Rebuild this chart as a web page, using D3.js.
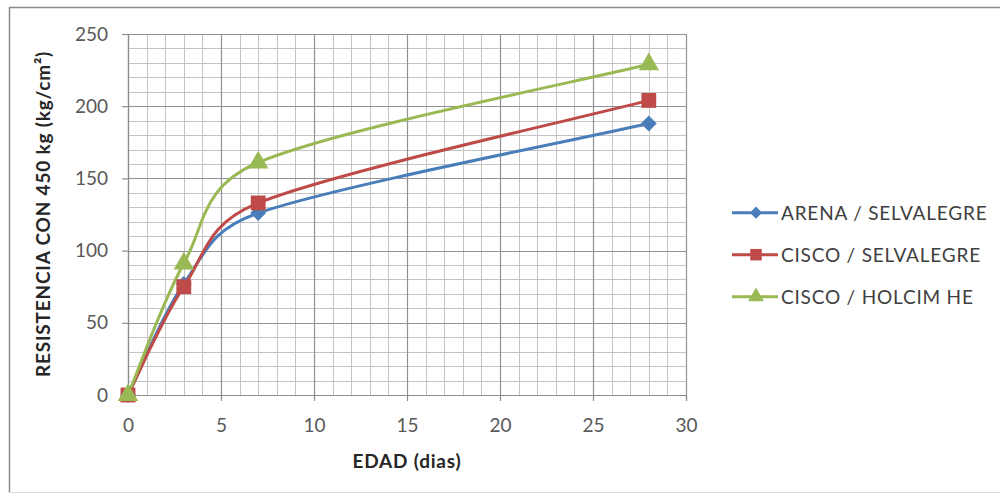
<!DOCTYPE html>
<html>
<head>
<meta charset="utf-8">
<script src="https://cdn.jsdelivr.net/npm/d3@7"></script>
<style>
  html, body { margin: 0; padding: 0; background: #fff; }
  svg { display: block; }
  text { font-family: Lato, "Open Sans", sans-serif; }
</style>
</head>
<body>
<svg id="chart" width="1000" height="497"></svg>
<script>
// Compressive strength vs. age for three mixes
const ages = [0, 3, 7, 28];
const arenaSelvalegre = [0, 77, 126, 188];
const ciscoSelvalegre = [0, 75, 133, 204];
const ciscoHolcimHE = [0, 91, 161, 229];
const seriesNames = ["ARENA / SELVALEGRE", "CISCO / SELVALEGRE", "CISCO / HOLCIM HE"];
const xTicks = [0, 5, 10, 15, 20, 25, 30];
const yTicks = [0, 50, 100, 150, 200, 250];

const series = [
  { name: seriesNames[0], values: arenaSelvalegre, color: "#4a7ebb", symbol: "diamond" },
  { name: seriesNames[1], values: ciscoSelvalegre, color: "#be4b48", symbol: "square" },
  { name: seriesNames[2], values: ciscoHolcimHE, color: "#98b954", symbol: "triangle" }
];

// Spreadsheet-style smoothing: Bezier segments with control arms of
// (next - prev) / 6, each arm capped at half of its segment length.
function curveSmoothCapped(context) {
  let pts = [];
  return {
    areaStart() {}, areaEnd() {},
    lineStart() { pts = []; },
    point(x, y) { pts.push([+x, +y]); },
    lineEnd() {
      const n = pts.length;
      if (!n) return;
      context.moveTo(pts[0][0], pts[0][1]);
      for (let i = 0; i < n - 1; i++) {
        const p0 = pts[Math.max(i - 1, 0)], p1 = pts[i], p2 = pts[i + 1], p3 = pts[Math.min(i + 2, n - 1)];
        const half = Math.hypot(p2[0] - p1[0], p2[1] - p1[1]) / 2;
        let a = [(p2[0] - p0[0]) / 6, (p2[1] - p0[1]) / 6];
        let b = [(p3[0] - p1[0]) / 6, (p3[1] - p1[1]) / 6];
        const la = Math.hypot(a[0], a[1]), lb = Math.hypot(b[0], b[1]);
        if (la > half) a = [a[0] * half / la, a[1] * half / la];
        if (lb > half) b = [b[0] * half / lb, b[1] * half / lb];
        context.bezierCurveTo(p1[0] + a[0], p1[1] + a[1], p2[0] - b[0], p2[1] - b[1], p2[0], p2[1]);
      }
    }
  };
}

const svg = d3.select("#chart");
const W = 1000, H = 497;
svg.append("rect").attr("width", W).attr("height", H).attr("fill", "#fff");

// outer chart frame
svg.append("path")
  .attr("d", `M9.5,${H - 4} V7.5 H${W}`)
  .attr("fill", "none").attr("stroke", "#8c8c8c").attr("stroke-width", 1.5);
svg.append("line").attr("x1", 9).attr("x2", W).attr("y1", H - 4.5).attr("y2", H - 4.5)
  .attr("stroke", "#d9d9d9").attr("stroke-width", 1);

const x = d3.scaleLinear().domain([0, 30]).range([128, 686]);
const y = d3.scaleLinear().domain([0, 250]).range([395, 34]);

const grid = svg.append("g");
// minor grid
grid.selectAll("line.vminor").data(d3.range(0, 31, 1)).join("line")
  .attr("x1", d => Math.round(x(d)) + 0.5).attr("x2", d => Math.round(x(d)) + 0.5)
  .attr("y1", y(250)).attr("y2", y(0))
  .attr("stroke", "#c4c4c4").attr("stroke-width", 1);
grid.selectAll("line.hminor").data(d3.range(0, 251, 10)).join("line")
  .attr("y1", d => Math.round(y(d)) + 0.5).attr("y2", d => Math.round(y(d)) + 0.5)
  .attr("x1", x(0)).attr("x2", x(30))
  .attr("stroke", "#c4c4c4").attr("stroke-width", 1);
// major grid
grid.selectAll("line.vmajor").data(xTicks).join("line")
  .attr("x1", d => Math.round(x(d)) + 0.5).attr("x2", d => Math.round(x(d)) + 0.5)
  .attr("y1", y(250)).attr("y2", y(0))
  .attr("stroke", "#929292").attr("stroke-width", 1.2);
grid.selectAll("line.hmajor").data(yTicks).join("line")
  .attr("y1", d => Math.round(y(d)) + 0.5).attr("y2", d => Math.round(y(d)) + 0.5)
  .attr("x1", x(0)).attr("x2", x(30))
  .attr("stroke", "#929292").attr("stroke-width", 1.2);

// axes
const xAxis = d3.axisBottom(x).tickValues(xTicks).tickSize(6).tickPadding(18);
const yAxis = d3.axisLeft(y).tickValues(yTicks).tickSize(6).tickPadding(14);
const gx = svg.append("g").attr("transform", `translate(0,${y(0)})`).call(xAxis);
const gy = svg.append("g").attr("transform", `translate(${x(0)},0)`).call(yAxis);
[gx, gy].forEach(g => {
  g.select(".domain").attr("stroke", "#8c8c8c").attr("stroke-width", 1.2);
  g.selectAll(".tick line").attr("stroke", "#8c8c8c").attr("stroke-width", 1.2);
  g.selectAll(".tick text").attr("fill", "#595959")
    .style("font-size", "19px").style("font-family", "Lato, sans-serif");
});

// axis titles
svg.append("text").attr("x", 407).attr("y", 468).attr("text-anchor", "middle")
  .style("font-size", "19px").style("font-weight", "bold").style("letter-spacing", "0.8px")
  .attr("fill", "#262626")
  .text("EDAD (dias)");
svg.append("text").attr("transform", "translate(50,214) rotate(-90)")
  .attr("text-anchor", "middle")
  .style("font-size", "19px").style("font-weight", "bold").style("letter-spacing", "0.8px")
  .attr("fill", "#262626")
  .text("RESISTENCIA CON 450 kg (kg/cm²)");

// smoothed series lines
const line = d3.line()
  .x(d => x(d[0])).y(d => y(d[1]))
  .curve(curveSmoothCapped);

const symbolType = { diamond: d3.symbolDiamond2, square: d3.symbolSquare, triangle: d3.symbolTriangle };
const symbolSize = { diamond: 160, square: 220, triangle: 180 };

series.forEach(s => {
  const pts = ages.map((a, i) => [a, s.values[i]]);
  svg.append("path").datum(pts).attr("d", line)
    .attr("fill", "none").attr("stroke", s.color).attr("stroke-width", 3);
});
series.forEach(s => {
  const pts = ages.map((a, i) => [a, s.values[i]]);
  svg.append("g").selectAll("path").data(pts).join("path")
    .attr("transform", d => `translate(${x(d[0])},${y(d[1])})`)
    .attr("d", d3.symbol().type(symbolType[s.symbol]).size(symbolSize[s.symbol]))
    .attr("fill", s.color);
});

// legend
const legend = svg.append("g");
series.forEach((s, i) => {
  const ly = 212.7 + i * 42;
  legend.append("line").attr("x1", 732).attr("x2", 778).attr("y1", ly).attr("y2", ly)
    .attr("stroke", s.color).attr("stroke-width", 3);
  legend.append("path").attr("transform", `translate(756,${ly})`)
    .attr("d", d3.symbol().type(symbolType[s.symbol]).size(symbolSize[s.symbol] * 0.6))
    .attr("fill", s.color);
  legend.append("text").attr("x", 781).attr("y", ly).attr("dy", "0.36em")
    .style("font-size", "19px").style("letter-spacing", "0.8px").attr("fill", "#404040")
    .text(s.name);
});
</script>
</body>
</html>
